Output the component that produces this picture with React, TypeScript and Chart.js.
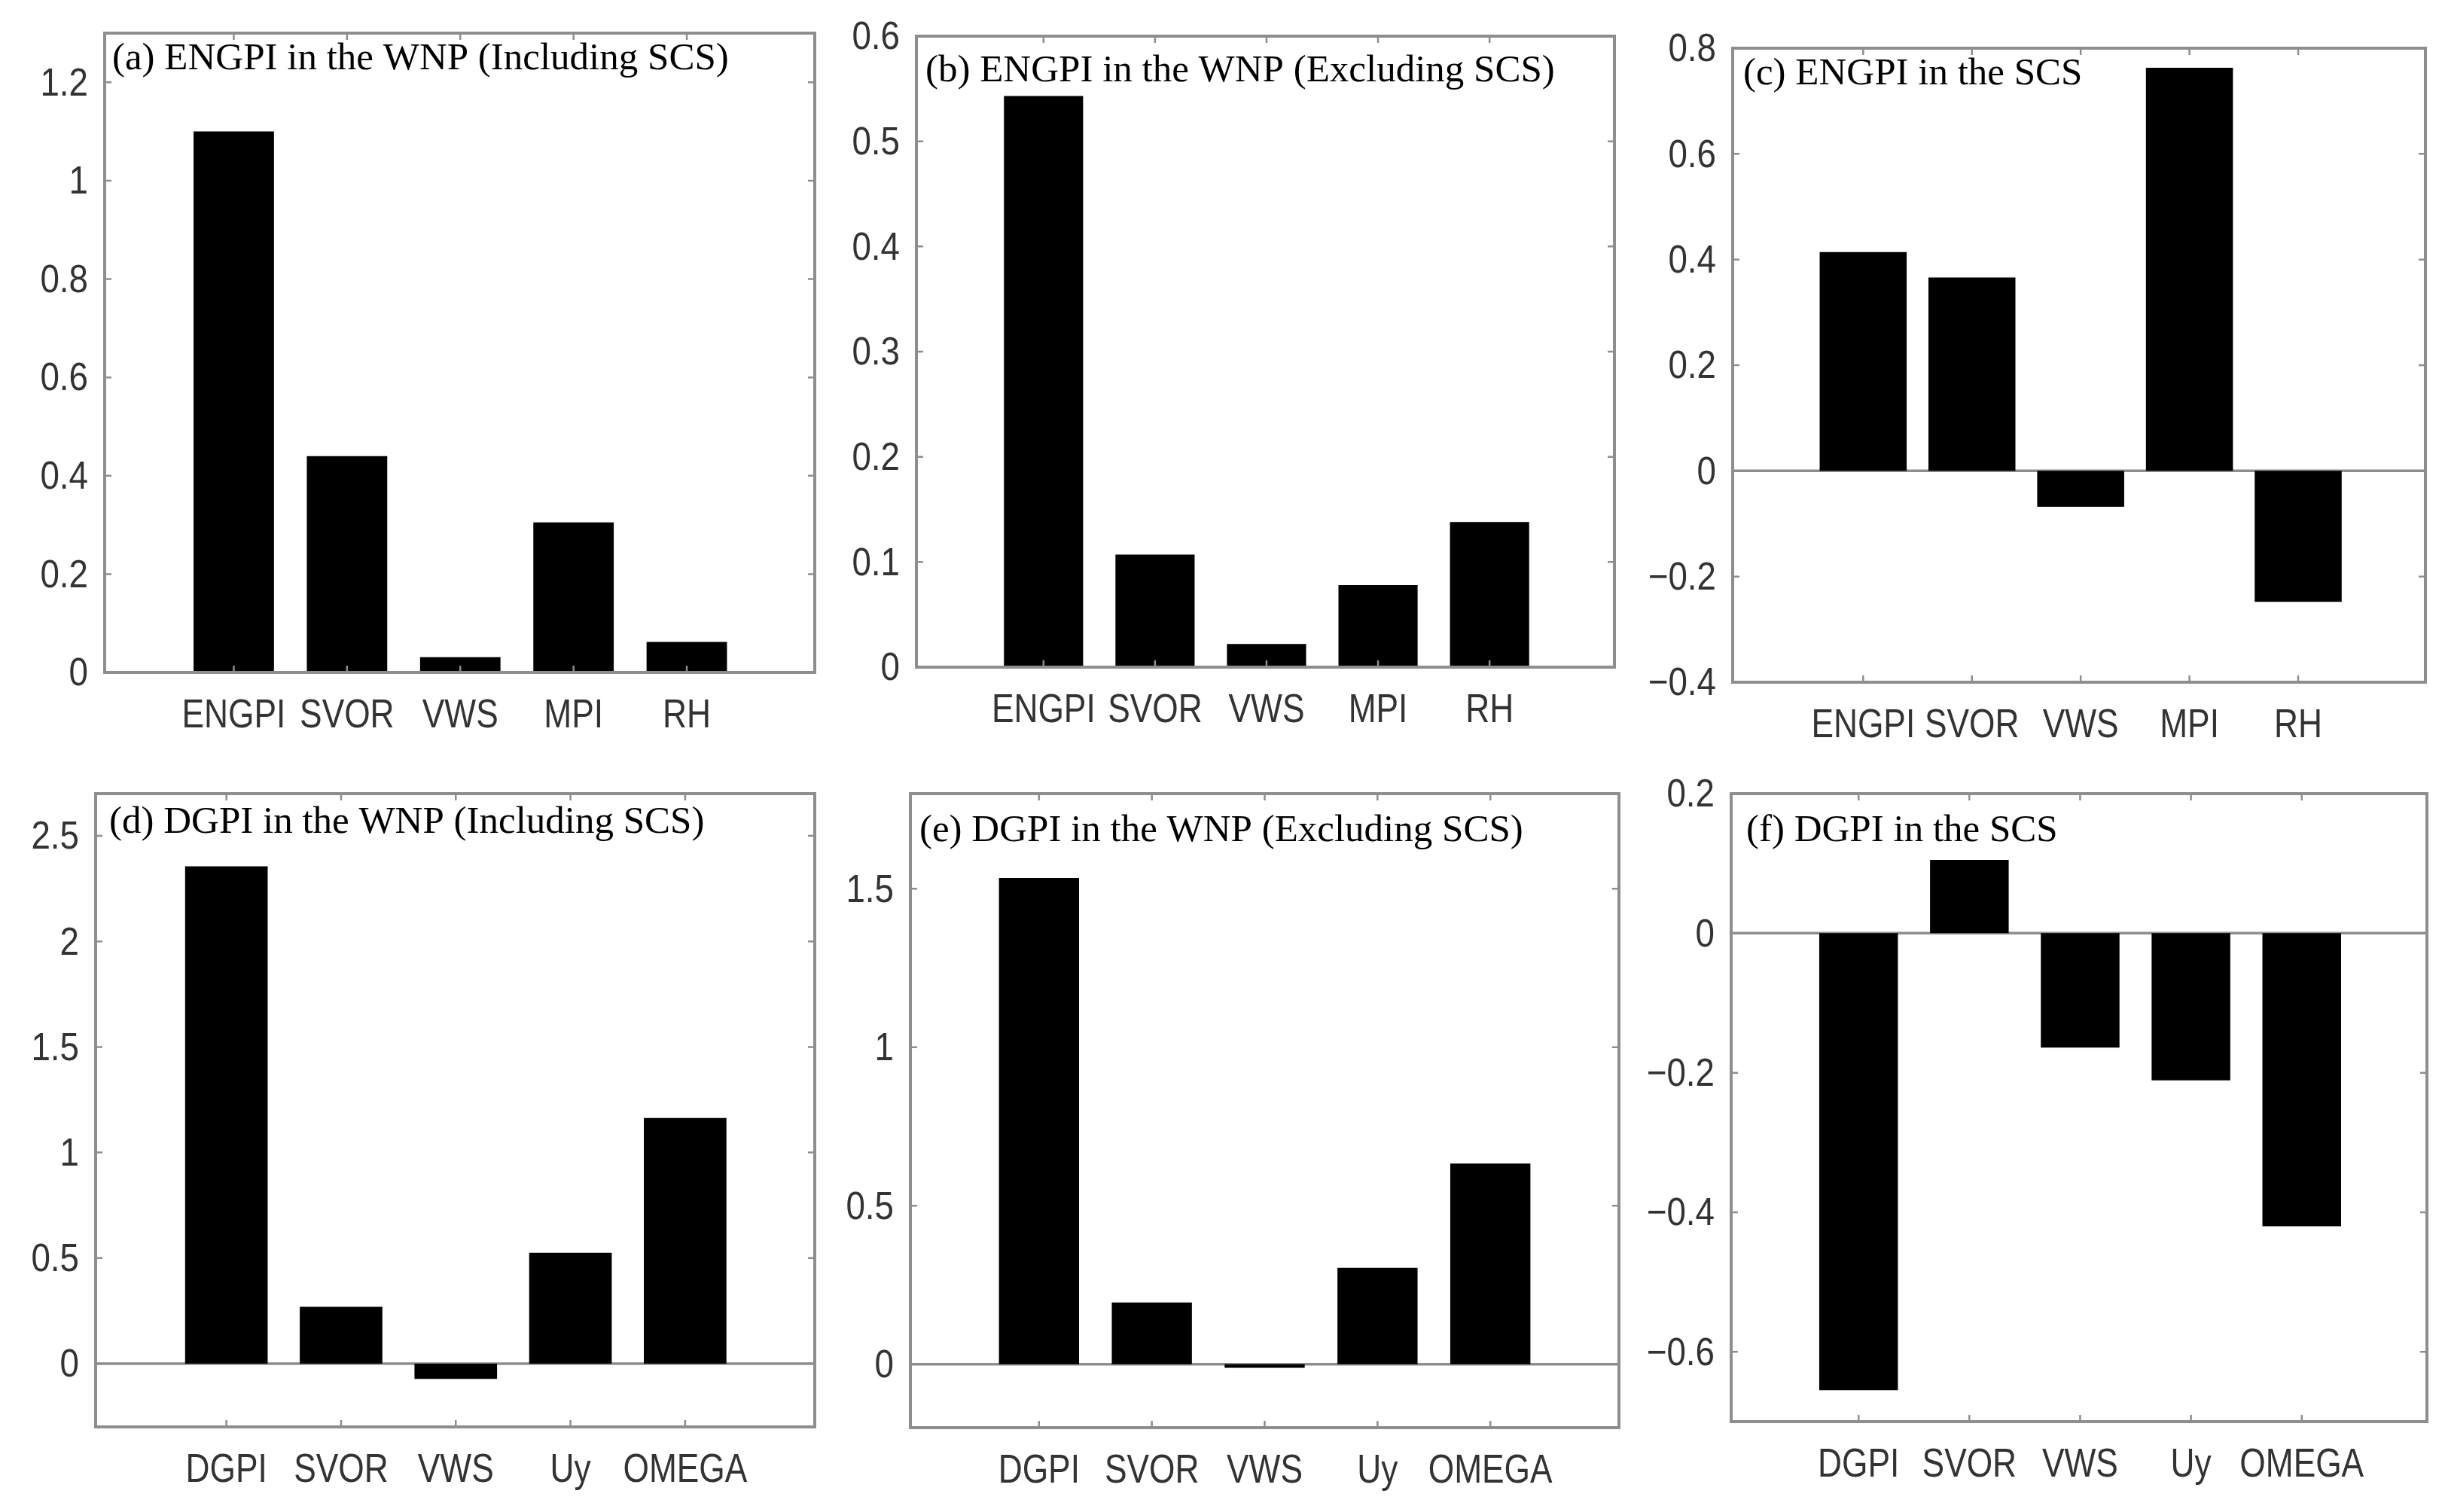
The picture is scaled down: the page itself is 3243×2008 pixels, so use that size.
import React, { useEffect, useRef } from 'react';
import { Chart, registerables } from 'chart.js';

Chart.register(...registerables);

// ---------- data ----------
const engpiCategories = ['ENGPI', 'SVOR', 'VWS', 'MPI', 'RH'];
const dgpiCategories = ['DGPI', 'SVOR', 'VWS', 'Uy', 'OMEGA'];

const engpiWnpIncluding = [1.1, 0.44, 0.031, 0.305, 0.062];
const engpiWnpExcluding = [0.543, 0.107, 0.022, 0.078, 0.138];
const engpiScs = [0.414, 0.366, -0.068, 0.763, -0.248];
const dgpiWnpIncluding = [2.356, 0.269, -0.073, 0.525, 1.163];
const dgpiWnpExcluding = [1.534, 0.195, -0.011, 0.304, 0.633];
const dgpiScs = [-0.655, 0.105, -0.164, -0.211, -0.42];

const ticksA = [0, 0.2, 0.4, 0.6, 0.8, 1, 1.2];
const ticksB = [0, 0.1, 0.2, 0.3, 0.4, 0.5, 0.6];
const ticksC = [-0.4, -0.2, 0, 0.2, 0.4, 0.6, 0.8];
const ticksD = [0, 0.5, 1, 1.5, 2, 2.5];
const ticksE = [0, 0.5, 1, 1.5];
const ticksF = [-0.6, -0.4, -0.2, 0, 0.2];

const rangeA = [0, 1.3];
const rangeB = [0, 0.6];
const rangeC = [-0.4, 0.8];
const rangeD = [-0.3, 2.7];
const rangeE = [-0.2, 1.8];
const rangeF = [-0.7, 0.2];

const titleA = '(a) ENGPI in the WNP (Including SCS)';
const titleB = '(b) ENGPI in the WNP (Excluding SCS)';
const titleC = '(c) ENGPI in the SCS';
const titleD = '(d) DGPI in the WNP (Including SCS)';
const titleE = '(e) DGPI in the WNP (Excluding SCS)';
const titleF = '(f) DGPI in the SCS';

// ---------- layout / style ----------
const W = 3243;
const H = 2008;
const LW = 130; // y axis width
const TP = 50;  // top padding
const RP = 20;  // right padding
const BH = 100; // x axis height

const FRAME = '#8e8e8e';
const LABEL = '#333333';
const SANS = '"Liberation Sans", Arial, sans-serif';
const SERIF = '"Liberation Serif", "Times New Roman", serif';
const X_FONT = 54;
const X_SQUEEZE = 0.82;
const X_BASE = 73;
const Y_FONT = 52;
const Y_SQUEEZE = 0.88;
const Y_PAD = 22;

type PanelCfg = {
  title: string;
  categories: string[];
  values: number[];
  ticks: number[];
  range: number[];
  box: { left: number; top: number; right: number; bottom: number };
  xMin: number;
  xMax: number;
  barPct: number;
  titleDx: number;
  titleDy: number;
};

const panels: PanelCfg[] = [
  { title: titleA, categories: engpiCategories, values: engpiWnpIncluding, ticks: ticksA, range: rangeA,
    box: { left: 139, top: 44, right: 1082, bottom: 893 }, xMin: -0.14, xMax: 6.13, barPct: 0.71, titleDx: 10, titleDy: 48 },
  { title: titleB, categories: engpiCategories, values: engpiWnpExcluding, ticks: ticksB, range: rangeB,
    box: { left: 1217, top: 48, right: 2144, bottom: 886 }, xMin: -0.14, xMax: 6.12, barPct: 0.71, titleDx: 12, titleDy: 60 },
  { title: titleC, categories: engpiCategories, values: engpiScs, ticks: ticksC, range: rangeC,
    box: { left: 2301, top: 64, right: 3221, bottom: 906 }, xMin: -0.2, xMax: 6.17, barPct: 0.8, titleDx: 14, titleDy: 48 },
  { title: titleD, categories: dgpiCategories, values: dgpiWnpIncluding, ticks: ticksD, range: rangeD,
    box: { left: 127, top: 1054, right: 1082, bottom: 1895 }, xMin: -0.14, xMax: 6.13, barPct: 0.72, titleDx: 18, titleDy: 52 },
  { title: titleE, categories: dgpiCategories, values: dgpiWnpExcluding, ticks: ticksE, range: rangeE,
    box: { left: 1209, top: 1054, right: 2150, bottom: 1896 }, xMin: -0.14, xMax: 6.14, barPct: 0.71, titleDx: 12, titleDy: 63 },
  { title: titleF, categories: dgpiCategories, values: dgpiScs, ticks: ticksF, range: rangeF,
    box: { left: 2299, top: 1054, right: 3223, bottom: 1888 }, xMin: -0.15, xMax: 6.13, barPct: 0.71, titleDx: 20, titleDy: 63 },
];

const fmt = (v: number) => {
  const s = String(Math.round(v * 1000) / 1000);
  return s.replace('-', '\u2212');
};

const framePlugin = {
  id: 'frame',
  beforeDatasetsDraw(chart: any) {
    const { ctx, chartArea: a, scales } = chart;
    const y = scales.y;
    if (y.min < 0) {
      const y0 = y.getPixelForValue(0);
      ctx.save();
      ctx.strokeStyle = FRAME;
      ctx.lineWidth = 3.5;
      ctx.beginPath();
      ctx.moveTo(a.left, y0);
      ctx.lineTo(a.right, y0);
      ctx.stroke();
      ctx.restore();
    }
  },
  afterDatasetsDraw(chart: any, _args: any, opts: any) {
    const { ctx, chartArea: a, scales } = chart;
    const x = scales.x;
    const y = scales.y;
    const TL = 9;
    const labels: string[] = opts.labels;
    ctx.save();
    ctx.strokeStyle = FRAME;
    ctx.lineWidth = 2.5;
    ctx.beginPath();
    for (let i = 1; i <= labels.length; i++) {
      const px = x.getPixelForValue(i);
      ctx.moveTo(px, a.bottom);
      ctx.lineTo(px, a.bottom - TL);
      ctx.moveTo(px, a.top);
      ctx.lineTo(px, a.top + TL);
    }
    for (const t of opts.ticks as number[]) {
      const py = y.getPixelForValue(t);
      ctx.moveTo(a.left, py);
      ctx.lineTo(a.left + TL, py);
      ctx.moveTo(a.right, py);
      ctx.lineTo(a.right - TL, py);
    }
    ctx.stroke();
    ctx.lineWidth = 4;
    ctx.strokeRect(a.left, a.top, a.right - a.left, a.bottom - a.top);

    // x tick labels (condensed sans, like the original narrow font)
    ctx.fillStyle = LABEL;
    ctx.font = X_FONT + 'px ' + SANS;
    ctx.textAlign = 'center';
    ctx.textBaseline = 'alphabetic';
    labels.forEach((lab, i) => {
      const px = x.getPixelForValue(i + 1);
      ctx.save();
      ctx.translate(px, a.bottom + X_BASE);
      ctx.scale(X_SQUEEZE, 1);
      ctx.fillText(lab, 0, 0);
      ctx.restore();
    });

    // y tick labels
    ctx.font = Y_FONT + 'px ' + SANS;
    ctx.textAlign = 'right';
    ctx.textBaseline = 'middle';
    for (const t of opts.ticks as number[]) {
      const py = y.getPixelForValue(t);
      ctx.save();
      ctx.translate(a.left - Y_PAD, py + 3);
      ctx.scale(Y_SQUEEZE, 1);
      ctx.fillText(fmt(t), 0, 0);
      ctx.restore();
    }

    // panel title
    ctx.fillStyle = '#000';
    ctx.font = '51px ' + SERIF;
    ctx.textBaseline = 'alphabetic';
    ctx.textAlign = 'left';
    ctx.fillText(opts.title, a.left + opts.dx, a.top + opts.dy);
    ctx.restore();
  },
};

function Panel({ cfg }: { cfg: PanelCfg }) {
  const ref = useRef<HTMLCanvasElement | null>(null);
  const { box } = cfg;
  const cw = box.right - box.left + LW + RP;
  const ch = box.bottom - box.top + TP + BH;

  useEffect(() => {
    if (!ref.current) return;
    const chart = new Chart(ref.current, {
      type: 'bar',
      data: {
        labels: cfg.categories,
        datasets: [
          {
            data: cfg.values.map((v, i) => ({ x: i + 1, y: v })),
            backgroundColor: '#000000',
            borderWidth: 0,
            barPercentage: cfg.barPct,
            categoryPercentage: 1,
          } as any,
        ],
      },
      options: {
        animation: false,
        responsive: false,
        devicePixelRatio: 1,
        layout: { padding: { top: TP, right: RP, left: 0, bottom: 0 } },
        plugins: {
          legend: { display: false },
          tooltip: { enabled: false },
          title: { display: false },
          frame: { title: cfg.title, dx: cfg.titleDx, dy: cfg.titleDy, ticks: cfg.ticks, labels: cfg.categories },
        } as any,
        scales: {
          x: {
            type: 'linear',
            min: cfg.xMin,
            max: cfg.xMax,
            offset: false,
            grid: { display: false, drawTicks: false },
            border: { display: false },
            afterBuildTicks: (scale: any) => {
              scale.ticks = cfg.categories.map((_, i) => ({ value: i + 1 }));
            },
            afterFit: (scale: any) => {
              scale.height = BH;
            },
            ticks: { display: false },
          },
          y: {
            type: 'linear',
            min: cfg.range[0],
            max: cfg.range[1],
            grid: { display: false, drawTicks: false },
            border: { display: false },
            afterBuildTicks: (scale: any) => {
              scale.ticks = cfg.ticks.map((t) => ({ value: t }));
            },
            afterFit: (scale: any) => {
              scale.width = LW;
            },
            ticks: { display: false },
          },
        },
      },
      plugins: [framePlugin as any],
    });
    return () => chart.destroy();
  }, [cfg]);

  return (
    <canvas
      ref={ref}
      width={cw}
      height={ch}
      style={{
        position: 'absolute',
        left: box.left - LW,
        top: box.top - TP,
        width: cw,
        height: ch,
      }}
    />
  );
}

export default function App() {
  useEffect(() => {
    document.body.style.margin = '0';
    document.body.style.overflow = 'hidden';
  }, []);
  return (
    <div
      style={{
        position: 'absolute',
        left: 0,
        top: 0,
        width: W,
        height: H,
        background: '#ffffff',
        overflow: 'hidden',
      }}
    >
      {panels.map((p, i) => (
        <Panel key={i} cfg={p} />
      ))}
    </div>
  );
}
